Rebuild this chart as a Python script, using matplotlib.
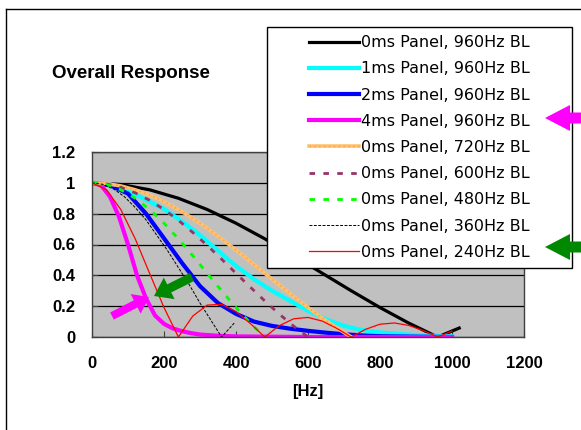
import numpy as np
import matplotlib
matplotlib.use("Agg")
import matplotlib.pyplot as plt
from matplotlib.patches import FancyArrow, Rectangle
from matplotlib.lines import Line2D
from matplotlib.ticker import FormatStrFormatter

# valores (frecuencia en Hz, respuesta relativa)
f_bl960 = [0, 80, 160, 240, 320, 400, 480, 560, 640, 720, 800, 880, 960, 1020]
r_bl960 = [1.0, 0.989, 0.955, 0.90, 0.827, 0.738, 0.637, 0.527, 0.413, 0.30, 0.191, 0.09, 0.0, 0.058]

f_p1 = [0, 50, 100, 150, 200, 250, 300, 350, 400, 450, 500, 550, 600, 650, 700, 750, 800, 850, 900, 950, 1000]
r_p1 = [1.0, 0.99, 0.95, 0.89, 0.83, 0.75, 0.66, 0.56, 0.46, 0.375, 0.30, 0.235, 0.17, 0.115, 0.072,
        0.045, 0.03, 0.02, 0.013, 0.008, 0.005]

f_p2 = [0, 50, 100, 150, 200, 250, 300, 350, 400, 450, 500, 550, 600, 650, 700, 750, 800, 900, 1000]
r_p2 = [1.0, 0.985, 0.93, 0.80, 0.64, 0.48, 0.33, 0.22, 0.15, 0.1, 0.072, 0.054, 0.04, 0.028,
        0.018, 0.01, 0.005, 0.002, 0.0]

f_p4 = [0, 25, 50, 75, 100, 125, 150, 175, 200, 225, 250, 275, 300, 350, 400, 500, 600, 800, 1000]
r_p4 = [1.0, 0.985, 0.91, 0.78, 0.60, 0.40, 0.25, 0.14, 0.085, 0.055, 0.038, 0.025, 0.016, 0.008,
        0.004, 0.002, 0.0, 0.0, 0.0]

f_bl720 = [0, 40, 80, 120, 160, 200, 240, 280, 320, 360, 400, 440, 480, 520, 560, 600, 640, 680, 720]
r_bl720 = [1.0, 0.995, 0.98, 0.955, 0.921, 0.878, 0.827, 0.769, 0.705, 0.637, 0.564, 0.489, 0.413,
           0.338, 0.263, 0.191, 0.122, 0.059, 0.0]

f_bl600 = [0, 40, 80, 120, 160, 200, 240, 280, 320, 360, 400, 440, 480, 520, 560, 600]
r_bl600 = [1.0, 0.993, 0.971, 0.935, 0.887, 0.827, 0.757, 0.678, 0.594, 0.505, 0.413, 0.323, 0.234,
           0.149, 0.071, 0.0]

f_bl480 = [0, 40, 80, 120, 160, 200, 240, 280, 320, 360, 400, 440, 480]
r_bl480 = [1.0, 0.989, 0.955, 0.90, 0.827, 0.738, 0.637, 0.527, 0.413, 0.30, 0.191, 0.09, 0.0]

f_bl360 = [0, 30, 60, 90, 120, 150, 180, 210, 240, 270, 300, 330, 360, 395]
r_bl360 = [1.0, 0.99, 0.96, 0.91, 0.84, 0.76, 0.66, 0.56, 0.45, 0.34, 0.22, 0.11, 0.0, 0.09]

f_bl240 = [0, 40, 80, 120, 160, 200, 240, 280, 320, 360, 400, 440, 480, 520, 560, 600, 640, 680,
           720, 760, 800, 840, 880, 920, 960, 1000]
r_bl240 = [1.0, 0.955, 0.827, 0.637, 0.413, 0.191, 0.0, 0.136, 0.207, 0.212, 0.165, 0.087, 0.0,
           0.073, 0.118, 0.127, 0.103, 0.056, 0.0, 0.05, 0.083, 0.091, 0.075, 0.042, 0.0, 0.038]

etiquetas = ['0ms Panel, 960Hz BL', '1ms Panel, 960Hz BL', '2ms Panel, 960Hz BL',
             '4ms Panel, 960Hz BL', '0ms Panel, 720Hz BL', '0ms Panel, 600Hz BL',
             '0ms Panel, 480Hz BL', '0ms Panel, 360Hz BL', '0ms Panel, 240Hz BL']

W, H = 581, 430
fig = plt.figure(figsize=(W / 100, H / 100), dpi=100)
fig.patch.set_facecolor('white')


def fx(px):
    return px / W


def fy(py):
    return 1 - py / H


ax = fig.add_axes([fx(92), fy(337), fx(524) - fx(92), fy(152) - fy(337)])
ax.set_facecolor('#C0C0C0')

l1, = ax.plot(f_bl960, r_bl960, color='black', lw=2.3)
l2, = ax.plot(f_p1, r_p1, color='#00FFFF', lw=3.0)
l3, = ax.plot(f_p2, r_p2, color='#0000FF', lw=3.0)
l4, = ax.plot(f_p4, r_p4, color='#FF00FF', lw=3.0)
l5, = ax.plot(f_bl720, r_bl720, color='#FFC070', lw=2.6)
l5b, = ax.plot(f_bl720, r_bl720, color='#F0A040', lw=1.0, ls=(0, (1, 2.5)))
l6, = ax.plot(f_bl600, r_bl600, color='#993366', lw=2.0, ls=(0, (2, 3)))
l7, = ax.plot(f_bl480, r_bl480, color='#00FF00', lw=2.0, ls=(0, (2, 3)))
l8, = ax.plot(f_bl360, r_bl360, color='black', lw=0.7, ls=(0, (3, 1.5)))
l9, = ax.plot(f_bl240, r_bl240, color='#FF0000', lw=0.9)
manejadores = [l1, l2, l3, l4, (l5, l5b), l6, l7, l8, l9]

ax.set_xlim(0, 1200)
ax.set_ylim(0, 1.2)
ax.set_xticks(np.arange(0, 1201, 200))
ax.set_yticks(np.arange(0, 1.21, 0.2))
ax.yaxis.set_major_formatter(FormatStrFormatter('%g'))
ax.grid(axis='y', color='black', lw=0.9)
ax.set_axisbelow(True)
for s in ax.spines.values():
    s.set_color('#404040')
    s.set_linewidth(1.0)

fuente = {'family': 'Liberation Sans', 'weight': 'bold', 'size': 12}
ax.tick_params(axis='both', direction='in', length=4, color='#404040')
ax.tick_params(axis='x', pad=14)
ax.tick_params(axis='y', pad=12)
for t in ax.get_xticklabels() + ax.get_yticklabels():
    t.set_fontproperties(fuente)
ax.set_xlabel('[Hz]', fontdict=fuente, labelpad=9)

fig.text(fx(52), fy(73), 'Overall Response', ha='left', va='center',
         family='Liberation Sans', weight='bold', size=13.5)

# marco exterior
fig.add_artist(Line2D([fx(6), fx(6)], [fy(9), 0], color='black', lw=1.0, transform=fig.transFigure))
fig.add_artist(Line2D([fx(6), 1], [fy(9), fy(9)], color='black', lw=1.0, transform=fig.transFigure))

# leyenda
caja = Rectangle((fx(267), fy(268)), fx(572) - fx(267), fy(27) - fy(268), transform=fig.transFigure,
                 facecolor='white', edgecolor='black', lw=1.0, zorder=5)
fig.add_artist(caja)
leg = fig.legend(manejadores, etiquetas, loc='center',
                 bbox_to_anchor=(fx(267), fy(268), fx(572) - fx(267), fy(27) - fy(268)),
                 frameon=False, prop={'family': 'DejaVu Sans', 'size': 11.5}, handlelength=3.1,
                 handletextpad=0.15, labelspacing=0.70, borderpad=0.3)
leg.set_zorder(6)


def flecha(x0, y0, x1, y1, ancho, cabeza_w, cabeza_l, color):
    a = FancyArrow(x0, H - y0, x1 - x0, -(y1 - y0), width=ancho, head_width=cabeza_w,
                   head_length=cabeza_l, length_includes_head=True, color=color, lw=0,
                   transform=None, zorder=10)
    fig.add_artist(a)


flecha(112, 316, 149, 297, 8, 22, 15, '#FF00FF')
flecha(192, 277, 154, 296, 9, 24, 17, '#008800')
flecha(595, 118, 545, 118, 11, 26, 25, '#FF00FF')
flecha(595, 247, 545, 247, 11, 26, 25, '#008800')

fig.savefig('out.png', dpi=100)
